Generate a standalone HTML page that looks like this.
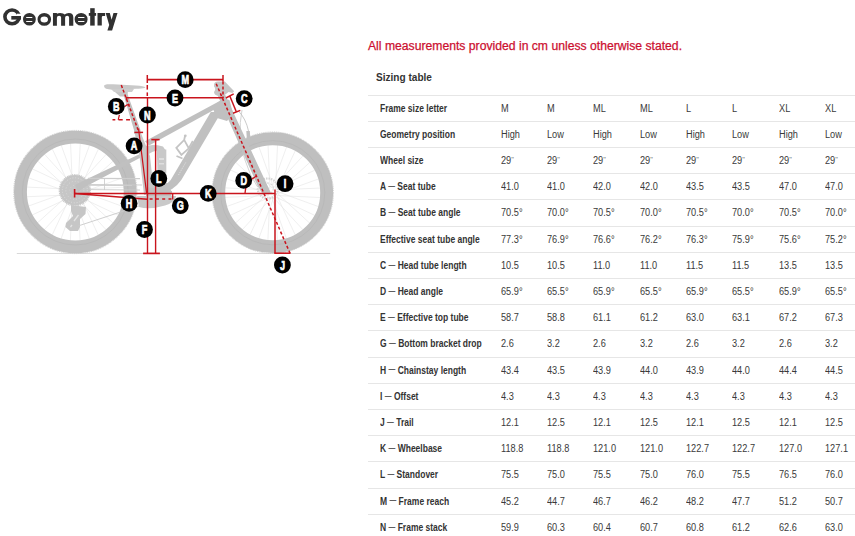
<!DOCTYPE html>
<html><head><meta charset="utf-8">
<style>
html,body{margin:0;padding:0;background:#fff;width:855px;height:536px;overflow:hidden;position:relative}
body{font-family:"Liberation Sans",sans-serif;color:#333}
.t{position:absolute;white-space:nowrap;transform-origin:0 0}
.title{position:absolute;left:0;top:0}
.note{position:absolute;left:368px;top:38.6px;font-size:12px;line-height:14px;color:#cc1030;-webkit-text-stroke:0.25px #cc1030;white-space:nowrap;transform-origin:0 0;transform:scaleX(1.0147)}
.sz{position:absolute;left:375.5px;top:70.8px;font-size:11px;line-height:13px;color:#333;font-weight:bold;white-space:nowrap;transform-origin:0 0;transform:scaleX(0.915)}
.ln{position:absolute;left:368px;width:487px;height:1px;background:#e6e6e6}
.lb{position:absolute;left:379.5px;font-size:10px;line-height:12px;font-weight:bold;color:#333;white-space:nowrap;transform-origin:0 0;transform:scaleX(0.85)}
.q{font-size:8px;color:#777;position:relative;top:-2px}
.dash{font-size:8px;position:relative;top:-2.3px}
.vl{position:absolute;font-size:10px;line-height:12px;color:#3a3a3a;white-space:nowrap;transform-origin:0 0;transform:scaleX(0.92)}
svg{position:absolute;left:0;top:0}
</style></head><body>
<svg width="360" height="290" viewBox="0 0 360 290">
<g fill="#313131">
<path fill-rule="evenodd" d="M3.1 16.85 A8.95 8.65 0 1 0 21.0 16.85 A8.95 8.65 0 1 0 3.1 16.85 Z M6.7 16.85 A5.35 5.1 0 1 0 17.4 16.85 A5.35 5.1 0 1 0 6.7 16.85 Z"/>
<rect x="16.8" y="13.7" width="5" height="2.3" fill="#fff"/>
<rect x="11.3" y="16" width="9.7" height="3.6"/>
<path fill-rule="evenodd" d="M23.0 19.3 A6.4 6.3 0 1 0 35.8 19.3 A6.4 6.3 0 1 0 23.0 19.3 Z M26.2 17.0 H32.3 V18.1 H26.2 Z M26.2 20.9 H32.3 V22.0 H26.2 Z"/>
<path fill-rule="evenodd" d="M37.5 19.35 A6.8 6.45 0 1 0 51.1 19.35 A6.8 6.45 0 1 0 37.5 19.35 Z M40.5 19.45 A3.75 3.05 0 1 0 48.0 19.45 A3.75 3.05 0 1 0 40.5 19.45 Z"/>
<path d="M52.95 25.8 V12.9 H56.9 V13.8 Q58.2 12.9 60.2 12.9 Q63.6 12.9 64.7 14.4 Q66.1 12.9 68.8 12.9 Q73.3 12.9 73.3 17.2 V25.8 H69.1 V17.6 Q69.1 15.7 67.2 15.7 Q65.1 15.7 65.1 17.8 V25.8 H61.1 V17.6 Q61.1 15.7 59.2 15.7 Q56.9 15.7 56.9 17.8 V25.8 Z"/>
<path fill-rule="evenodd" d="M74.6 19.3 A6.5 6.3 0 1 0 87.6 19.3 A6.5 6.3 0 1 0 74.6 19.3 Z M78.1 17.0 H84.4 V18.1 H78.1 Z M78.1 20.9 H84.4 V22.0 H78.1 Z"/>
<rect x="90.2" y="8.2" width="4.5" height="17.4"/>
<rect x="88.8" y="13" width="7.3" height="2.8"/>
<path d="M97.5 25.6 V13 H105.1 V16.1 H102.6 Q101.8 16.3 101.8 17.5 V25.6 Z"/>
<path d="M105.7 13 H109.8 L111.6 19.8 L113.5 13 H117.5 L112.1 30.4 H107.4 L109.2 25.1 Z"/>
</g>
<rect x="16.8" y="253" width="313.4" height="1" fill="#d9d9d9"/>
<line x1="79.43" y1="194.82" x2="124.85" y2="196.97" stroke="#e2e2e2" stroke-width="0.55"/><line x1="80.20" y1="190.99" x2="122.93" y2="206.54" stroke="#e2e2e2" stroke-width="0.55"/><line x1="78.03" y1="196.19" x2="119.18" y2="215.56" stroke="#e2e2e2" stroke-width="0.55"/><line x1="80.21" y1="192.94" x2="113.74" y2="223.66" stroke="#e2e2e2" stroke-width="0.55"/><line x1="76.22" y1="196.91" x2="106.82" y2="230.55" stroke="#e2e2e2" stroke-width="0.55"/><line x1="79.48" y1="194.75" x2="98.70" y2="235.96" stroke="#e2e2e2" stroke-width="0.55"/><line x1="74.27" y1="196.89" x2="89.67" y2="239.68" stroke="#e2e2e2" stroke-width="0.55"/><line x1="78.11" y1="196.14" x2="80.09" y2="241.57" stroke="#e2e2e2" stroke-width="0.55"/><line x1="72.48" y1="196.13" x2="70.33" y2="241.55" stroke="#e2e2e2" stroke-width="0.55"/><line x1="76.31" y1="196.90" x2="60.76" y2="239.63" stroke="#e2e2e2" stroke-width="0.55"/><line x1="71.11" y1="194.73" x2="51.74" y2="235.88" stroke="#e2e2e2" stroke-width="0.55"/><line x1="74.36" y1="196.91" x2="43.64" y2="230.44" stroke="#e2e2e2" stroke-width="0.55"/><line x1="70.39" y1="192.92" x2="36.75" y2="223.52" stroke="#e2e2e2" stroke-width="0.55"/><line x1="72.55" y1="196.18" x2="31.34" y2="215.40" stroke="#e2e2e2" stroke-width="0.55"/><line x1="70.41" y1="190.97" x2="27.62" y2="206.37" stroke="#e2e2e2" stroke-width="0.55"/><line x1="71.16" y1="194.81" x2="25.73" y2="196.79" stroke="#e2e2e2" stroke-width="0.55"/><line x1="71.17" y1="189.18" x2="25.75" y2="187.03" stroke="#e2e2e2" stroke-width="0.55"/><line x1="70.40" y1="193.01" x2="27.67" y2="177.46" stroke="#e2e2e2" stroke-width="0.55"/><line x1="72.57" y1="187.81" x2="31.42" y2="168.44" stroke="#e2e2e2" stroke-width="0.55"/><line x1="70.39" y1="191.06" x2="36.86" y2="160.34" stroke="#e2e2e2" stroke-width="0.55"/><line x1="74.38" y1="187.09" x2="43.78" y2="153.45" stroke="#e2e2e2" stroke-width="0.55"/><line x1="71.12" y1="189.25" x2="51.90" y2="148.04" stroke="#e2e2e2" stroke-width="0.55"/><line x1="76.33" y1="187.11" x2="60.93" y2="144.32" stroke="#e2e2e2" stroke-width="0.55"/><line x1="72.49" y1="187.86" x2="70.51" y2="142.43" stroke="#e2e2e2" stroke-width="0.55"/><line x1="78.12" y1="187.87" x2="80.27" y2="142.45" stroke="#e2e2e2" stroke-width="0.55"/><line x1="74.29" y1="187.10" x2="89.84" y2="144.37" stroke="#e2e2e2" stroke-width="0.55"/><line x1="79.49" y1="189.27" x2="98.86" y2="148.12" stroke="#e2e2e2" stroke-width="0.55"/><line x1="76.24" y1="187.09" x2="106.96" y2="153.56" stroke="#e2e2e2" stroke-width="0.55"/><line x1="80.21" y1="191.08" x2="113.85" y2="160.48" stroke="#e2e2e2" stroke-width="0.55"/><line x1="78.05" y1="187.82" x2="119.26" y2="168.60" stroke="#e2e2e2" stroke-width="0.55"/><line x1="80.19" y1="193.03" x2="122.98" y2="177.63" stroke="#e2e2e2" stroke-width="0.55"/><line x1="79.44" y1="189.19" x2="124.87" y2="187.21" stroke="#e2e2e2" stroke-width="0.55"/><circle cx="75.3" cy="192.0" r="54.85" fill="none" stroke="#bfbfbf" stroke-width="12.90"/><circle cx="75.3" cy="192.0" r="53.00" fill="none" stroke="#b8b8b8" stroke-width="0.9"/><circle cx="75.3" cy="192.0" r="61.60" fill="none" stroke="#c8c8c8" stroke-width="1" stroke-dasharray="1 0.9"/>
<line x1="276.83" y1="195.52" x2="321.36" y2="197.58" stroke="#e2e2e2" stroke-width="0.55"/><line x1="277.60" y1="191.69" x2="319.47" y2="206.98" stroke="#e2e2e2" stroke-width="0.55"/><line x1="275.43" y1="196.89" x2="315.78" y2="215.83" stroke="#e2e2e2" stroke-width="0.55"/><line x1="277.61" y1="193.64" x2="310.44" y2="223.79" stroke="#e2e2e2" stroke-width="0.55"/><line x1="273.62" y1="197.61" x2="303.65" y2="230.56" stroke="#e2e2e2" stroke-width="0.55"/><line x1="276.88" y1="195.45" x2="295.67" y2="235.87" stroke="#e2e2e2" stroke-width="0.55"/><line x1="271.67" y1="197.59" x2="286.81" y2="239.52" stroke="#e2e2e2" stroke-width="0.55"/><line x1="275.51" y1="196.84" x2="277.40" y2="241.37" stroke="#e2e2e2" stroke-width="0.55"/><line x1="269.88" y1="196.83" x2="267.82" y2="241.36" stroke="#e2e2e2" stroke-width="0.55"/><line x1="273.71" y1="197.60" x2="258.42" y2="239.47" stroke="#e2e2e2" stroke-width="0.55"/><line x1="268.51" y1="195.43" x2="249.57" y2="235.78" stroke="#e2e2e2" stroke-width="0.55"/><line x1="271.76" y1="197.61" x2="241.61" y2="230.44" stroke="#e2e2e2" stroke-width="0.55"/><line x1="267.79" y1="193.62" x2="234.84" y2="223.65" stroke="#e2e2e2" stroke-width="0.55"/><line x1="269.95" y1="196.88" x2="229.53" y2="215.67" stroke="#e2e2e2" stroke-width="0.55"/><line x1="267.81" y1="191.67" x2="225.88" y2="206.81" stroke="#e2e2e2" stroke-width="0.55"/><line x1="268.56" y1="195.51" x2="224.03" y2="197.40" stroke="#e2e2e2" stroke-width="0.55"/><line x1="268.57" y1="189.88" x2="224.04" y2="187.82" stroke="#e2e2e2" stroke-width="0.55"/><line x1="267.80" y1="193.71" x2="225.93" y2="178.42" stroke="#e2e2e2" stroke-width="0.55"/><line x1="269.97" y1="188.51" x2="229.62" y2="169.57" stroke="#e2e2e2" stroke-width="0.55"/><line x1="267.79" y1="191.76" x2="234.96" y2="161.61" stroke="#e2e2e2" stroke-width="0.55"/><line x1="271.78" y1="187.79" x2="241.75" y2="154.84" stroke="#e2e2e2" stroke-width="0.55"/><line x1="268.52" y1="189.95" x2="249.73" y2="149.53" stroke="#e2e2e2" stroke-width="0.55"/><line x1="273.73" y1="187.81" x2="258.59" y2="145.88" stroke="#e2e2e2" stroke-width="0.55"/><line x1="269.89" y1="188.56" x2="268.00" y2="144.03" stroke="#e2e2e2" stroke-width="0.55"/><line x1="275.52" y1="188.57" x2="277.58" y2="144.04" stroke="#e2e2e2" stroke-width="0.55"/><line x1="271.69" y1="187.80" x2="286.98" y2="145.93" stroke="#e2e2e2" stroke-width="0.55"/><line x1="276.89" y1="189.97" x2="295.83" y2="149.62" stroke="#e2e2e2" stroke-width="0.55"/><line x1="273.64" y1="187.79" x2="303.79" y2="154.96" stroke="#e2e2e2" stroke-width="0.55"/><line x1="277.61" y1="191.78" x2="310.56" y2="161.75" stroke="#e2e2e2" stroke-width="0.55"/><line x1="275.45" y1="188.52" x2="315.87" y2="169.73" stroke="#e2e2e2" stroke-width="0.55"/><line x1="277.59" y1="193.73" x2="319.52" y2="178.59" stroke="#e2e2e2" stroke-width="0.55"/><line x1="276.84" y1="189.89" x2="321.37" y2="188.00" stroke="#e2e2e2" stroke-width="0.55"/><circle cx="272.7" cy="192.7" r="53.95" fill="none" stroke="#bfbfbf" stroke-width="12.90"/><circle cx="272.7" cy="192.7" r="52.10" fill="none" stroke="#b8b8b8" stroke-width="0.9"/><circle cx="272.7" cy="192.7" r="60.70" fill="none" stroke="#c8c8c8" stroke-width="1" stroke-dasharray="1 0.9"/>
<circle cx="74.85" cy="190.3" r="15.2" fill="#c6c6c6"/>
<circle cx="74.85" cy="190.3" r="15.6" fill="none" stroke="#c6c6c6" stroke-width="1.2" stroke-dasharray="1 0.8"/>
<circle cx="74.85" cy="190.3" r="12.5" fill="none" stroke="#dcdcdc" stroke-width="0.9" stroke-dasharray="1 1.8"/>
<circle cx="74.85" cy="190.3" r="9" fill="none" stroke="#dadada" stroke-width="0.9" stroke-dasharray="1 2"/>
<circle cx="74.85" cy="190.3" r="5" fill="none" stroke="#d6d6d6" stroke-width="0.9" stroke-dasharray="1 2"/>
<path d="M71 205 L86 207 L85.5 214 L80 219 L80 227 L78 231 L70 231 L65.4 227 L66 223 L73 216 L71 211 Z" fill="#c6c6c6"/>
<path d="M74 221 L78.5 215 M70.5 227 L72 225" fill="none" stroke="#e4e4e4" stroke-width="1.3"/>
<path d="M88 184.5 L142 185 M90 189.6 L140 190 M78 226 L145 204" stroke="#c9c9c9" stroke-width="0.9" fill="none"/>
<path d="M104.5 178 L104.5 190" stroke="#c9c9c9" stroke-width="0.8" fill="none"/>
<circle cx="267.8" cy="188.5" r="10" fill="none" stroke="#d4d4d4" stroke-width="2.2" stroke-dasharray="1.5 1"/>
<circle cx="267.8" cy="188.5" r="5.5" fill="none" stroke="#d8d8d8" stroke-width="1.2" stroke-dasharray="2 1.5"/>
<path d="M242 110 Q237 135 245 160 Q250 176 257 186" fill="none" stroke="#c8c8c8" stroke-width="0.8"/>
<path d="M75 185 L81.7 181.4 L139.9 154 L146 151 L148 157 L142.1 156.8 L85 187 L78 192 Z" fill="#c0c0c0"/>
<path d="M88 177.8 L140 178 L140 179.2 L88 179 Z" fill="#cdcdcd"/>
<path d="M88 184.8 L132 185 L132 186 L88 185.8 Z" fill="#cdcdcd"/>
<path d="M134.5 132 L140.5 132 L150 156 L154 194 L144 195 L140 160 Z" fill="#c8c8c8"/>
<path d="M147 183 L168 183 L172 193 L147 195 Z" fill="#c6c6c6"/>
<path d="M122.4 91 L126.4 91 L140.4 130 L141 134 L134.5 134 L134 130 Z" fill="#c0c0c0"/>
<path d="M145 141.3 L219.7 101.1 L222 104.5 L211 111.6 L149 145.6 Z" fill="#c0c0c0"/>
<path d="M212 107 L223 98.5 L229.5 100 L233 114 L227 121 L217 118 Z" fill="#c0c0c0"/>
<path d="M216.6 93 L224.3 93 L232.2 110 L250.9 150 L267.2 185 L271 193 L263 195 L257.3 185 L241.8 150 L224.1 110 Z" fill="#c0c0c0"/>
<path d="M246.3 131 L249.8 131 L250.5 142 L247 142 Z" fill="#c0c0c0"/>
<path d="M210.8 112 L221.4 112 L181.3 180 Q172.5 192.5 160 192.6 L150 199 L148 188 L155 188 Q164 188 170.7 180 Z" fill="#c0c0c0"/>
<path d="M146 187 L172 191 L171 200 L146 201 Z" fill="#c0c0c0"/>
<path d="M137 196 L176 196 Q176 202 165 205.5 Q150 210 139 207 Z" fill="#c9c9c9"/>
<path d="M141 148 Q150 143 163 146.5 L166 151 Q153 149 147 156 Z" fill="#c8c8c8"/>
<path d="M156.8 149.5 L166.3 149.5 L166.3 173.6 L157.5 173.6 Z" fill="#c9c9c9"/>
<path d="M159 158 L164 158 L164 160 L159 160 Z M159 163 L164 163 L164 164.5 L159 164.5 Z" fill="#dedede"/>
<path d="M214 85 Q214 81.4 218 81.4 L224.8 81.4 L234.2 91.2 L232.4 93 L228.5 92 L226 94 L222 96.5 L218 95.7 Q214 95 214 92 Q216.5 89 214 86.5 Z" fill="#c6c6c6"/>
<path d="M104 86 C104 84 108 84 113 84.3 L136 85.5 Q144 86 145.5 87.6 Q144 89 136 88.7 L124 89.5 Q112 90.5 106 88.8 Q104 87.8 104 86 Z" fill="#c9c9c9"/>
<path d="M114.4 91.5 L128 91.5 L127 96.5 L120 96.5 Z" fill="#c6c6c6"/>
<path d="M111 89 L134 89 L132 92 L114 92 Z" fill="#cdcdcd"/>
<path d="M176.3 147.9 L184.2 139.9 L188.8 148.3 L181.4 154.9 Z M184.2 139.9 L185 136 M188.8 148.3 L192.8 141 M176.5 156 L182.5 158.5" fill="none" stroke="#c4c4c4" stroke-width="1.8"/>
<circle cx="185.3" cy="135.8" r="1.4" fill="#c4c4c4"/>
<path d="M178.5 175 L186 162" fill="none" stroke="#e3e3e3" stroke-width="0.8" stroke-dasharray="1.2 1"/>
<path d="M238.5 111 Q246 119 248.5 131" fill="none" stroke="#bdbdbd" stroke-width="0.8"/>
<line x1="147.3" y1="79.6" x2="223" y2="79.6" stroke="#c9141d" stroke-width="1.6"/>
<line x1="147.3" y1="75" x2="147.3" y2="83" stroke="#c9141d" stroke-width="1.5"/>
<line x1="147.3" y1="85" x2="147.3" y2="89.6" stroke="#c9141d" stroke-width="1.5"/>
<line x1="147.3" y1="92.4" x2="147.3" y2="96" stroke="#c9141d" stroke-width="1.5"/>
<line x1="223" y1="75" x2="223" y2="81.5" stroke="#c9141d" stroke-width="1.5"/>
<line x1="223" y1="81.5" x2="223" y2="98" stroke="#c9141d" stroke-width="1.5" stroke-dasharray="3 2"/>
<line x1="125.8" y1="97.8" x2="223.3" y2="97.8" stroke="#c9141d" stroke-width="1.6"/>
<line x1="126.5" y1="97.2" x2="126.5" y2="100.2" stroke="#c9141d" stroke-width="1.3"/>
<line x1="147.5" y1="98" x2="147.5" y2="253.3" stroke="#c9141d" stroke-width="1.4"/>
<line x1="155.6" y1="139.6" x2="155.6" y2="253.3" stroke="#c9141d" stroke-width="1.4"/>
<line x1="151.3" y1="139.6" x2="159.6" y2="139.6" stroke="#c9141d" stroke-width="1.6"/>
<line x1="143.1" y1="253.4" x2="159.9" y2="253.4" stroke="#c9141d" stroke-width="1.7"/>
<line x1="74.6" y1="193.6" x2="275" y2="193.6" stroke="#c9141d" stroke-width="1.5"/>
<line x1="74.6" y1="189" x2="74.6" y2="197.5" stroke="#c9141d" stroke-width="1.6"/>
<line x1="74.6" y1="193.5" x2="147.5" y2="199.2" stroke="#c9141d" stroke-width="1.4"/>
<line x1="149.6" y1="199.1" x2="172.8" y2="199.1" stroke="#c9141d" stroke-width="1.5" stroke-dasharray="3 3.3"/>
<line x1="172.7" y1="193.6" x2="172.7" y2="199.6" stroke="#c9141d" stroke-width="1.3"/>
<line x1="138.5" y1="128.5" x2="146.6" y2="193.3" stroke="#c9141d" stroke-width="1.2"/>
<line x1="134.4" y1="132.4" x2="143.1" y2="132.4" stroke="#c9141d" stroke-width="1.5"/>
<line x1="121.3" y1="85.1" x2="139" y2="132.4" stroke="#c9141d" stroke-width="1.5" stroke-dasharray="3 2"/>
<line x1="112.5" y1="119.7" x2="130" y2="119.7" stroke="#c9141d" stroke-width="1.5" stroke-dasharray="2.8 3.2 4.2 3.4 3.9"/>
<path d="M118.2 119.8 L119.4 114.8" fill="none" stroke="#c9141d" stroke-width="1.2"/>
<path d="M124.8 106.6 Q127 104 129.5 104.8" fill="none" stroke="#c9141d" stroke-width="1.3"/>
<line x1="216.2" y1="83.8" x2="290" y2="253.2" stroke="#c9141d" stroke-width="1.5" stroke-dasharray="3 2.2"/>
<line x1="229.8" y1="96" x2="236.4" y2="112" stroke="#c9141d" stroke-width="1.5"/>
<line x1="225.9" y1="98" x2="233.7" y2="93.9" stroke="#c9141d" stroke-width="1.5"/>
<line x1="233" y1="113.2" x2="240.3" y2="110.4" stroke="#c9141d" stroke-width="1.5"/>
<line x1="275" y1="189.4" x2="275" y2="253.2" stroke="#c9141d" stroke-width="1.5"/>
<line x1="274.3" y1="253.2" x2="290.5" y2="253.2" stroke="#c9141d" stroke-width="1.6"/>
<path d="M245.00 193.3 A18.3 18.3 0 0 1 256.10 176.47" fill="none" stroke="#c9141d" stroke-width="1.3"/>
<circle cx="185.2" cy="79.65" r="8.4" fill="#000"/><text transform="translate(185.2 84.15) scale(0.74 1)" text-anchor="middle" font-family="Liberation Sans" font-weight="bold" font-size="12.3" fill="#fff" stroke="#fff" stroke-width="0.7">M</text>
<circle cx="175" cy="98" r="8.4" fill="#000"/><text transform="translate(175 102.5) scale(0.74 1)" text-anchor="middle" font-family="Liberation Sans" font-weight="bold" font-size="12.3" fill="#fff" stroke="#fff" stroke-width="0.7">E</text>
<circle cx="244.2" cy="98.6" r="8.4" fill="#000"/><text transform="translate(244.2 103.1) scale(0.74 1)" text-anchor="middle" font-family="Liberation Sans" font-weight="bold" font-size="12.3" fill="#fff" stroke="#fff" stroke-width="0.7">C</text>
<circle cx="116.3" cy="106.4" r="8.4" fill="#000"/><text transform="translate(116.3 110.9) scale(0.74 1)" text-anchor="middle" font-family="Liberation Sans" font-weight="bold" font-size="12.3" fill="#fff" stroke="#fff" stroke-width="0.7">B</text>
<circle cx="147.4" cy="115" r="8.4" fill="#000"/><text transform="translate(147.4 119.5) scale(0.74 1)" text-anchor="middle" font-family="Liberation Sans" font-weight="bold" font-size="12.3" fill="#fff" stroke="#fff" stroke-width="0.7">N</text>
<circle cx="134.1" cy="145.9" r="8.4" fill="#000"/><text transform="translate(134.1 150.4) scale(0.74 1)" text-anchor="middle" font-family="Liberation Sans" font-weight="bold" font-size="12.3" fill="#fff" stroke="#fff" stroke-width="0.7">A</text>
<circle cx="158.8" cy="178.5" r="8.4" fill="#000"/><text transform="translate(158.8 183.0) scale(0.74 1)" text-anchor="middle" font-family="Liberation Sans" font-weight="bold" font-size="12.3" fill="#fff" stroke="#fff" stroke-width="0.7">L</text>
<circle cx="208.2" cy="193.4" r="8.4" fill="#000"/><text transform="translate(208.2 197.9) scale(0.74 1)" text-anchor="middle" font-family="Liberation Sans" font-weight="bold" font-size="12.3" fill="#fff" stroke="#fff" stroke-width="0.7">K</text>
<circle cx="129.1" cy="203.4" r="8.4" fill="#000"/><text transform="translate(129.1 207.9) scale(0.74 1)" text-anchor="middle" font-family="Liberation Sans" font-weight="bold" font-size="12.3" fill="#fff" stroke="#fff" stroke-width="0.7">H</text>
<circle cx="180.3" cy="205.7" r="8.4" fill="#000"/><text transform="translate(180.3 210.2) scale(0.74 1)" text-anchor="middle" font-family="Liberation Sans" font-weight="bold" font-size="12.3" fill="#fff" stroke="#fff" stroke-width="0.7">G</text>
<circle cx="243.7" cy="180.4" r="8.4" fill="#000"/><text transform="translate(243.7 184.9) scale(0.74 1)" text-anchor="middle" font-family="Liberation Sans" font-weight="bold" font-size="12.3" fill="#fff" stroke="#fff" stroke-width="0.7">D</text>
<circle cx="285.1" cy="183.7" r="8.4" fill="#000"/><text transform="translate(285.1 188.2) scale(0.74 1)" text-anchor="middle" font-family="Liberation Sans" font-weight="bold" font-size="12.3" fill="#fff" stroke="#fff" stroke-width="0.7">I</text>
<circle cx="144.5" cy="229.5" r="8.4" fill="#000"/><text transform="translate(144.5 234.0) scale(0.74 1)" text-anchor="middle" font-family="Liberation Sans" font-weight="bold" font-size="12.3" fill="#fff" stroke="#fff" stroke-width="0.7">F</text>
<circle cx="282.4" cy="265" r="8.4" fill="#000"/><text transform="translate(282.4 269.5) scale(0.74 1)" text-anchor="middle" font-family="Liberation Sans" font-weight="bold" font-size="12.3" fill="#fff" stroke="#fff" stroke-width="0.7">J</text>
</svg>
<div class="note">All measurements provided in cm unless otherwise stated.</div>
<div class="sz">Sizing table</div>
<div class="ln" style="top:95px"></div>
<div class="lb" style="top:102.60px">Frame size letter</div>
<div class="vl" style="left:500.60px;top:102.60px">M</div>
<div class="vl" style="left:546.93px;top:102.60px">M</div>
<div class="vl" style="left:593.26px;top:102.60px">ML</div>
<div class="vl" style="left:639.59px;top:102.60px">ML</div>
<div class="vl" style="left:685.92px;top:102.60px">L</div>
<div class="vl" style="left:732.25px;top:102.60px">L</div>
<div class="vl" style="left:778.58px;top:102.60px">XL</div>
<div class="vl" style="left:824.91px;top:102.60px">XL</div>
<div class="ln" style="top:121px"></div>
<div class="lb" style="top:128.80px">Geometry position</div>
<div class="vl" style="left:500.60px;top:128.80px">High</div>
<div class="vl" style="left:546.93px;top:128.80px">Low</div>
<div class="vl" style="left:593.26px;top:128.80px">High</div>
<div class="vl" style="left:639.59px;top:128.80px">Low</div>
<div class="vl" style="left:685.92px;top:128.80px">High</div>
<div class="vl" style="left:732.25px;top:128.80px">Low</div>
<div class="vl" style="left:778.58px;top:128.80px">High</div>
<div class="vl" style="left:824.91px;top:128.80px">Low</div>
<div class="ln" style="top:147px"></div>
<div class="lb" style="top:155.00px">Wheel size</div>
<div class="vl" style="left:500.60px;top:155.00px">29<span class="q">"</span></div>
<div class="vl" style="left:546.93px;top:155.00px">29<span class="q">"</span></div>
<div class="vl" style="left:593.26px;top:155.00px">29<span class="q">"</span></div>
<div class="vl" style="left:639.59px;top:155.00px">29<span class="q">"</span></div>
<div class="vl" style="left:685.92px;top:155.00px">29<span class="q">"</span></div>
<div class="vl" style="left:732.25px;top:155.00px">29<span class="q">"</span></div>
<div class="vl" style="left:778.58px;top:155.00px">29<span class="q">"</span></div>
<div class="vl" style="left:824.91px;top:155.00px">29<span class="q">"</span></div>
<div class="ln" style="top:173px"></div>
<div class="lb" style="top:181.20px">A <span class="dash">—</span> Seat tube</div>
<div class="vl" style="left:500.60px;top:181.20px">41.0</div>
<div class="vl" style="left:546.93px;top:181.20px">41.0</div>
<div class="vl" style="left:593.26px;top:181.20px">42.0</div>
<div class="vl" style="left:639.59px;top:181.20px">42.0</div>
<div class="vl" style="left:685.92px;top:181.20px">43.5</div>
<div class="vl" style="left:732.25px;top:181.20px">43.5</div>
<div class="vl" style="left:778.58px;top:181.20px">47.0</div>
<div class="vl" style="left:824.91px;top:181.20px">47.0</div>
<div class="ln" style="top:199px"></div>
<div class="lb" style="top:207.40px">B <span class="dash">—</span> Seat tube angle</div>
<div class="vl" style="left:500.60px;top:207.40px">70.5°</div>
<div class="vl" style="left:546.93px;top:207.40px">70.0°</div>
<div class="vl" style="left:593.26px;top:207.40px">70.5°</div>
<div class="vl" style="left:639.59px;top:207.40px">70.0°</div>
<div class="vl" style="left:685.92px;top:207.40px">70.5°</div>
<div class="vl" style="left:732.25px;top:207.40px">70.0°</div>
<div class="vl" style="left:778.58px;top:207.40px">70.5°</div>
<div class="vl" style="left:824.91px;top:207.40px">70.0°</div>
<div class="ln" style="top:226px"></div>
<div class="lb" style="top:233.60px">Effective seat tube angle</div>
<div class="vl" style="left:500.60px;top:233.60px">77.3°</div>
<div class="vl" style="left:546.93px;top:233.60px">76.9°</div>
<div class="vl" style="left:593.26px;top:233.60px">76.6°</div>
<div class="vl" style="left:639.59px;top:233.60px">76.2°</div>
<div class="vl" style="left:685.92px;top:233.60px">76.3°</div>
<div class="vl" style="left:732.25px;top:233.60px">75.9°</div>
<div class="vl" style="left:778.58px;top:233.60px">75.6°</div>
<div class="vl" style="left:824.91px;top:233.60px">75.2°</div>
<div class="ln" style="top:252px"></div>
<div class="lb" style="top:259.80px">C <span class="dash">—</span> Head tube length</div>
<div class="vl" style="left:500.60px;top:259.80px">10.5</div>
<div class="vl" style="left:546.93px;top:259.80px">10.5</div>
<div class="vl" style="left:593.26px;top:259.80px">11.0</div>
<div class="vl" style="left:639.59px;top:259.80px">11.0</div>
<div class="vl" style="left:685.92px;top:259.80px">11.5</div>
<div class="vl" style="left:732.25px;top:259.80px">11.5</div>
<div class="vl" style="left:778.58px;top:259.80px">13.5</div>
<div class="vl" style="left:824.91px;top:259.80px">13.5</div>
<div class="ln" style="top:278px"></div>
<div class="lb" style="top:286.00px">D <span class="dash">—</span> Head angle</div>
<div class="vl" style="left:500.60px;top:286.00px">65.9°</div>
<div class="vl" style="left:546.93px;top:286.00px">65.5°</div>
<div class="vl" style="left:593.26px;top:286.00px">65.9°</div>
<div class="vl" style="left:639.59px;top:286.00px">65.5°</div>
<div class="vl" style="left:685.92px;top:286.00px">65.9°</div>
<div class="vl" style="left:732.25px;top:286.00px">65.5°</div>
<div class="vl" style="left:778.58px;top:286.00px">65.9°</div>
<div class="vl" style="left:824.91px;top:286.00px">65.5°</div>
<div class="ln" style="top:304px"></div>
<div class="lb" style="top:312.20px">E <span class="dash">—</span> Effective top tube</div>
<div class="vl" style="left:500.60px;top:312.20px">58.7</div>
<div class="vl" style="left:546.93px;top:312.20px">58.8</div>
<div class="vl" style="left:593.26px;top:312.20px">61.1</div>
<div class="vl" style="left:639.59px;top:312.20px">61.2</div>
<div class="vl" style="left:685.92px;top:312.20px">63.0</div>
<div class="vl" style="left:732.25px;top:312.20px">63.1</div>
<div class="vl" style="left:778.58px;top:312.20px">67.2</div>
<div class="vl" style="left:824.91px;top:312.20px">67.3</div>
<div class="ln" style="top:330px"></div>
<div class="lb" style="top:338.40px">G <span class="dash">—</span> Bottom bracket drop</div>
<div class="vl" style="left:500.60px;top:338.40px">2.6</div>
<div class="vl" style="left:546.93px;top:338.40px">3.2</div>
<div class="vl" style="left:593.26px;top:338.40px">2.6</div>
<div class="vl" style="left:639.59px;top:338.40px">3.2</div>
<div class="vl" style="left:685.92px;top:338.40px">2.6</div>
<div class="vl" style="left:732.25px;top:338.40px">3.2</div>
<div class="vl" style="left:778.58px;top:338.40px">2.6</div>
<div class="vl" style="left:824.91px;top:338.40px">3.2</div>
<div class="ln" style="top:357px"></div>
<div class="lb" style="top:364.60px">H <span class="dash">—</span> Chainstay length</div>
<div class="vl" style="left:500.60px;top:364.60px">43.4</div>
<div class="vl" style="left:546.93px;top:364.60px">43.5</div>
<div class="vl" style="left:593.26px;top:364.60px">43.9</div>
<div class="vl" style="left:639.59px;top:364.60px">44.0</div>
<div class="vl" style="left:685.92px;top:364.60px">43.9</div>
<div class="vl" style="left:732.25px;top:364.60px">44.0</div>
<div class="vl" style="left:778.58px;top:364.60px">44.4</div>
<div class="vl" style="left:824.91px;top:364.60px">44.5</div>
<div class="ln" style="top:383px"></div>
<div class="lb" style="top:390.80px">I <span class="dash">—</span> Offset</div>
<div class="vl" style="left:500.60px;top:390.80px">4.3</div>
<div class="vl" style="left:546.93px;top:390.80px">4.3</div>
<div class="vl" style="left:593.26px;top:390.80px">4.3</div>
<div class="vl" style="left:639.59px;top:390.80px">4.3</div>
<div class="vl" style="left:685.92px;top:390.80px">4.3</div>
<div class="vl" style="left:732.25px;top:390.80px">4.3</div>
<div class="vl" style="left:778.58px;top:390.80px">4.3</div>
<div class="vl" style="left:824.91px;top:390.80px">4.3</div>
<div class="ln" style="top:409px"></div>
<div class="lb" style="top:417.00px">J <span class="dash">—</span> Trail</div>
<div class="vl" style="left:500.60px;top:417.00px">12.1</div>
<div class="vl" style="left:546.93px;top:417.00px">12.5</div>
<div class="vl" style="left:593.26px;top:417.00px">12.1</div>
<div class="vl" style="left:639.59px;top:417.00px">12.5</div>
<div class="vl" style="left:685.92px;top:417.00px">12.1</div>
<div class="vl" style="left:732.25px;top:417.00px">12.5</div>
<div class="vl" style="left:778.58px;top:417.00px">12.1</div>
<div class="vl" style="left:824.91px;top:417.00px">12.5</div>
<div class="ln" style="top:435px"></div>
<div class="lb" style="top:443.20px">K <span class="dash">—</span> Wheelbase</div>
<div class="vl" style="left:500.60px;top:443.20px">118.8</div>
<div class="vl" style="left:546.93px;top:443.20px">118.8</div>
<div class="vl" style="left:593.26px;top:443.20px">121.0</div>
<div class="vl" style="left:639.59px;top:443.20px">121.0</div>
<div class="vl" style="left:685.92px;top:443.20px">122.7</div>
<div class="vl" style="left:732.25px;top:443.20px">122.7</div>
<div class="vl" style="left:778.58px;top:443.20px">127.0</div>
<div class="vl" style="left:824.91px;top:443.20px">127.1</div>
<div class="ln" style="top:461px"></div>
<div class="lb" style="top:469.40px">L <span class="dash">—</span> Standover</div>
<div class="vl" style="left:500.60px;top:469.40px">75.5</div>
<div class="vl" style="left:546.93px;top:469.40px">75.0</div>
<div class="vl" style="left:593.26px;top:469.40px">75.5</div>
<div class="vl" style="left:639.59px;top:469.40px">75.0</div>
<div class="vl" style="left:685.92px;top:469.40px">76.0</div>
<div class="vl" style="left:732.25px;top:469.40px">75.5</div>
<div class="vl" style="left:778.58px;top:469.40px">76.5</div>
<div class="vl" style="left:824.91px;top:469.40px">76.0</div>
<div class="ln" style="top:488px"></div>
<div class="lb" style="top:495.60px">M <span class="dash">—</span> Frame reach</div>
<div class="vl" style="left:500.60px;top:495.60px">45.2</div>
<div class="vl" style="left:546.93px;top:495.60px">44.7</div>
<div class="vl" style="left:593.26px;top:495.60px">46.7</div>
<div class="vl" style="left:639.59px;top:495.60px">46.2</div>
<div class="vl" style="left:685.92px;top:495.60px">48.2</div>
<div class="vl" style="left:732.25px;top:495.60px">47.7</div>
<div class="vl" style="left:778.58px;top:495.60px">51.2</div>
<div class="vl" style="left:824.91px;top:495.60px">50.7</div>
<div class="ln" style="top:514px"></div>
<div class="lb" style="top:521.80px">N <span class="dash">—</span> Frame stack</div>
<div class="vl" style="left:500.60px;top:521.80px">59.9</div>
<div class="vl" style="left:546.93px;top:521.80px">60.3</div>
<div class="vl" style="left:593.26px;top:521.80px">60.4</div>
<div class="vl" style="left:639.59px;top:521.80px">60.7</div>
<div class="vl" style="left:685.92px;top:521.80px">60.8</div>
<div class="vl" style="left:732.25px;top:521.80px">61.2</div>
<div class="vl" style="left:778.58px;top:521.80px">62.6</div>
<div class="vl" style="left:824.91px;top:521.80px">63.0</div>
</body></html>
